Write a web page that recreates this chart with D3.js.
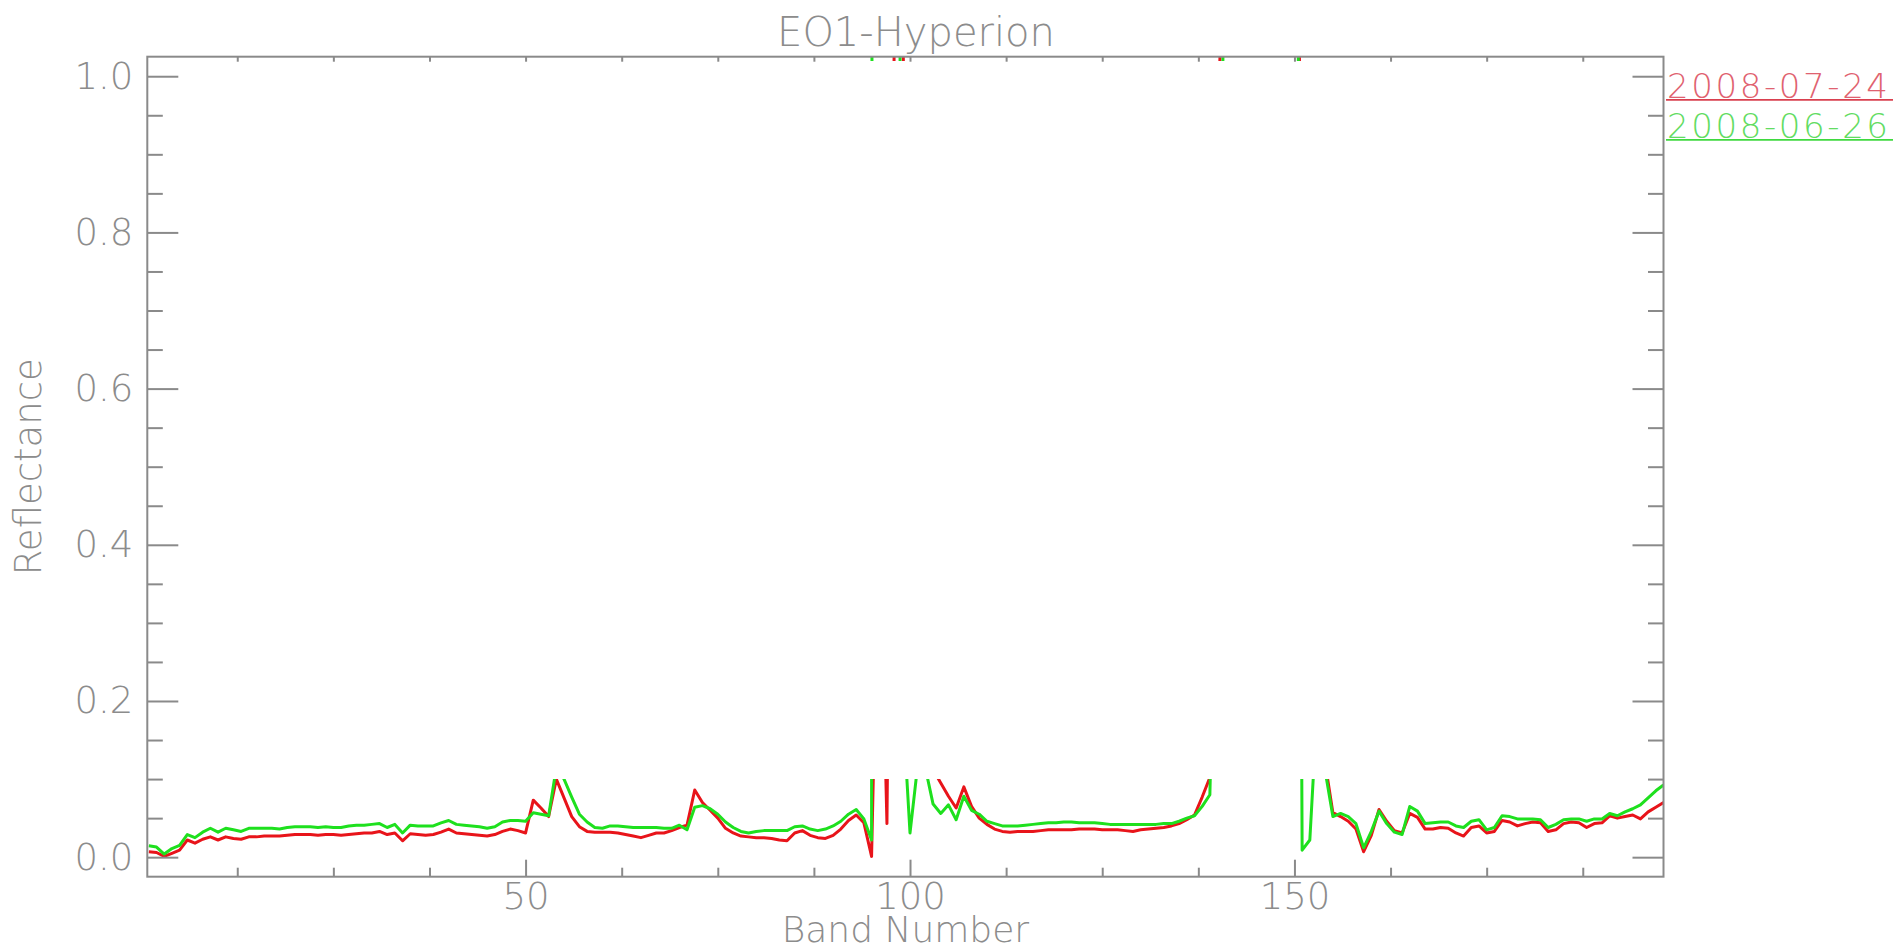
<!DOCTYPE html>
<html>
<head>
<meta charset="utf-8">
<script src="https://cdn.jsdelivr.net/npm/d3@7"></script>
<style>
  html, body { margin: 0; padding: 0; background: #fff; overflow: hidden; }
  svg { display: block; }
  text { font-family: "DejaVu Sans", sans-serif; font-weight: 200; }
</style>
</head>
<body>
<svg id="chart" width="1893" height="951"></svg>
<script>
// ---------------- data ----------------
const title = "EO1-Hyperion";
const xLabel = "Band Number";
const yLabel = "Reflectance";
const seriesNames = ["2008-07-24", "2008-06-26"];

const bands = d3.range(1, 199); // band numbers 1..198

const red = [
  0.007,0.006,0.001,0.005,0.009,0.022,0.018,0.023,0.026,0.022,
  0.026,0.024,0.023,0.026,0.026,0.027,0.027,0.027,0.028,0.029,
  0.029,0.029,0.028,0.029,0.029,0.028,0.029,0.030,0.031,0.031,
  0.033,0.029,0.031,0.021,0.030,0.029,0.028,0.029,0.032,0.036,
  0.031,0.030,0.029,0.028,0.027,0.029,0.033,0.036,0.034,0.031,
  0.073,0.063,0.052,0.100,0.076,0.052,0.039,0.033,0.032,0.032,
  0.032,0.031,0.029,0.027,0.025,0.028,0.031,0.031,0.034,0.038,
  0.041,0.086,0.070,0.060,0.050,0.037,0.031,0.027,0.026,0.025,
  0.025,0.024,0.022,0.021,0.031,0.034,0.028,0.025,0.024,0.028,
  0.036,0.047,0.054,0.044,0.001,0.45,0.043,1.1,1.1,0.5,
  0.3,0.2,0.112,0.095,0.078,0.063,0.090,0.065,0.050,0.042,
  0.036,0.033,0.032,0.033,0.033,0.033,0.034,0.035,0.035,0.035,
  0.035,0.036,0.036,0.036,0.035,0.035,0.035,0.034,0.033,0.035,
  0.036,0.037,0.038,0.040,0.043,0.048,0.054,0.077,0.102,0.9,
  1.3,1.5,1.5,1.5,1.5,1.5,1.5,1.5,1.5,2.0,
  0.5,0.4,0.3,0.12,0.057,0.052,0.046,0.036,0.007,0.028,
  0.061,0.046,0.034,0.031,0.056,0.051,0.036,0.036,0.038,0.037,
  0.031,0.027,0.038,0.040,0.031,0.033,0.047,0.045,0.040,0.043,
  0.045,0.044,0.033,0.035,0.043,0.045,0.044,0.038,0.043,0.044,
  0.053,0.050,0.052,0.054,0.049,0.058,0.064,0.070
];

const green = [
  0.0145,0.013,0.004,0.011,0.015,0.029,0.025,0.032,0.037,0.032,
  0.037,0.035,0.033,0.037,0.037,0.037,0.037,0.036,0.038,0.039,
  0.039,0.039,0.038,0.039,0.038,0.038,0.040,0.041,0.041,0.042,
  0.043,0.038,0.042,0.031,0.041,0.040,0.040,0.040,0.044,0.047,
  0.042,0.041,0.040,0.039,0.037,0.039,0.045,0.047,0.047,0.046,
  0.057,0.055,0.053,0.115,0.100,0.077,0.055,0.045,0.038,0.037,
  0.040,0.040,0.039,0.038,0.038,0.038,0.038,0.037,0.037,0.041,
  0.035,0.064,0.066,0.062,0.055,0.045,0.038,0.033,0.031,0.033,
  0.034,0.034,0.034,0.034,0.039,0.040,0.036,0.034,0.036,0.040,
  0.046,0.055,0.061,0.049,0.022,20,5,3,0.2,0.031,
  0.118,0.114,0.068,0.056,0.067,0.048,0.078,0.060,0.055,0.046,
  0.043,0.040,0.040,0.040,0.041,0.042,0.043,0.044,0.044,0.045,
  0.045,0.044,0.044,0.044,0.043,0.042,0.042,0.042,0.042,0.042,
  0.042,0.042,0.043,0.043,0.046,0.050,0.053,0.065,0.080,0.5,
  1.25,1.5,1.5,1.5,1.5,1.5,1.5,1.5,1.5,2.04,
  0.009,0.022,0.2,0.11,0.052,0.056,0.052,0.043,0.012,0.033,
  0.059,0.043,0.032,0.029,0.065,0.059,0.043,0.044,0.045,0.045,
  0.040,0.038,0.046,0.048,0.035,0.038,0.053,0.052,0.049,0.049,
  0.049,0.048,0.038,0.042,0.048,0.049,0.049,0.046,0.049,0.049,
  0.056,0.053,0.058,0.062,0.067,0.076,0.085,0.0925
];

const yMajorTicks = [0.0, 0.2, 0.4, 0.6, 0.8, 1.0];
const yMinorTicks = [0.05,0.1,0.15,0.25,0.3,0.35,0.45,0.5,0.55,0.65,0.7,0.75,0.85,0.9,0.95];
const xMajorTicks = [50, 100, 150];
const xMinorTicks = [12.5,25,37.5,62.5,75,87.5,112.5,125,137.5,162.5,175,187.5];

// visible windows of the plot (values)
const lowWindow = [-0.025, 0.1];
const topWindow = [1.0195, 1.025];

// ---------------- layout ----------------
const svg = d3.select("#chart");
const axisColor = "#8a8a8a";
const textColor = "#8c8c8c";
const lineColors = ["#e8141a", "#1ee01e"];
const legendText = ["#df6270", "#62dc62"];
const legendLine = ["#d9404f", "#3fd93f"];

const x = d3.scaleLinear().domain([0.8, 198]).range([147.3, 1663.5]);
const y = d3.scaleLinear().domain([-0.025, 1.025]).range([876.7, 56.7]);

const [x0, x1] = x.range();
const [yb, yt] = y.range();

// clip: two visible strips
const defs = svg.append("defs");
const clip = defs.append("clipPath").attr("id", "plotclip");
clip.append("rect")
  .attr("x", x0).attr("width", x1 - x0)
  .attr("y", y(lowWindow[1])).attr("height", y(lowWindow[0]) - y(lowWindow[1]));
clip.append("rect")
  .attr("x", x0).attr("width", x1 - x0)
  .attr("y", y(topWindow[1])).attr("height", y(topWindow[0]) - y(topWindow[1]));

// lines
const line = d3.line()
  .x((d, i) => x(bands[i]))
  .y(d => y(d));

const gLines = svg.append("g").attr("clip-path", "url(#plotclip)");
[red, green].forEach((s, k) => {
  gLines.append("path")
    .datum(s)
    .attr("d", line)
    .attr("fill", "none")
    .attr("stroke", lineColors[k])
    .attr("stroke-width", 3)
    .attr("stroke-linejoin", "round");
});

// axes
function styleAxis(g) {
  g.select(".domain").remove();
  g.selectAll(".tick line").attr("stroke", axisColor).attr("stroke-width", 2);
  g.selectAll(".tick text").attr("fill", textColor)
    .style("font-family", '"DejaVu Sans", sans-serif')
    .style("font-weight", 200)
    .style("font-size", "37px");
}

// left y
svg.append("g").attr("transform", `translate(${x0},0)`)
  .call(d3.axisLeft(y).tickValues(yMajorTicks).tickSize(-31).tickPadding(14).tickFormat(d3.format(".1f")))
  .call(styleAxis);
svg.append("g").attr("transform", `translate(${x0},0)`)
  .call(d3.axisLeft(y).tickValues(yMinorTicks).tickSize(-15.5).tickFormat(""))
  .call(styleAxis);
// right y
svg.append("g").attr("transform", `translate(${x1},0)`)
  .call(d3.axisRight(y).tickValues(yMajorTicks).tickSize(-31).tickFormat(""))
  .call(styleAxis);
svg.append("g").attr("transform", `translate(${x1},0)`)
  .call(d3.axisRight(y).tickValues(yMinorTicks).tickSize(-15.5).tickFormat(""))
  .call(styleAxis);
// bottom x
svg.append("g").attr("transform", `translate(0,${yb})`)
  .call(d3.axisBottom(x).tickValues(xMajorTicks).tickSize(-17).tickPadding(6).tickFormat(d3.format("d")))
  .call(styleAxis);
svg.append("g").attr("transform", `translate(0,${yb})`)
  .call(d3.axisBottom(x).tickValues(xMinorTicks).tickSize(-9).tickFormat(""))
  .call(styleAxis);
// top x
svg.append("g").attr("transform", `translate(0,${yt})`)
  .call(d3.axisTop(x).tickValues(xMajorTicks.concat(xMinorTicks)).tickSize(-5).tickFormat(""))
  .call(styleAxis);

// frame
svg.append("rect")
  .attr("x", x0).attr("y", yt)
  .attr("width", x1 - x0).attr("height", yb - yt)
  .attr("fill", "none").attr("stroke", axisColor).attr("stroke-width", 2);

// title
svg.append("text")
  .attr("x", 916).attr("y", 46)
  .attr("text-anchor", "middle")
  .attr("fill", textColor)
  .style("font-size", "40px")
  .text(title);

// axis labels
svg.append("text")
  .attr("x", (x0 + x1) / 2).attr("y", 942)
  .attr("text-anchor", "middle")
  .attr("fill", textColor)
  .style("font-size", "36px")
  .text(xLabel);

svg.append("text")
  .attr("transform", `translate(41,${(yt + yb) / 2}) rotate(-90)`)
  .attr("text-anchor", "middle")
  .attr("fill", textColor)
  .style("font-size", "37px")
  .text(yLabel);

// legend
const legendY = [98.3, 138.3];
seriesNames.forEach((name, k) => {
  svg.append("text")
    .attr("x", x1 + 3.5).attr("y", legendY[k])
    .attr("fill", legendText[k])
    .style("font-size", "34px")
    .style("letter-spacing", "2.6px")
    .text(name);
  svg.append("line")
    .attr("x1", x1 + 2.5).attr("x2", 1900)
    .attr("y1", legendY[k] + 1.6).attr("y2", legendY[k] + 1.6)
    .attr("stroke", legendLine[k]).attr("stroke-width", 1.8);
});
</script>
</body>
</html>
